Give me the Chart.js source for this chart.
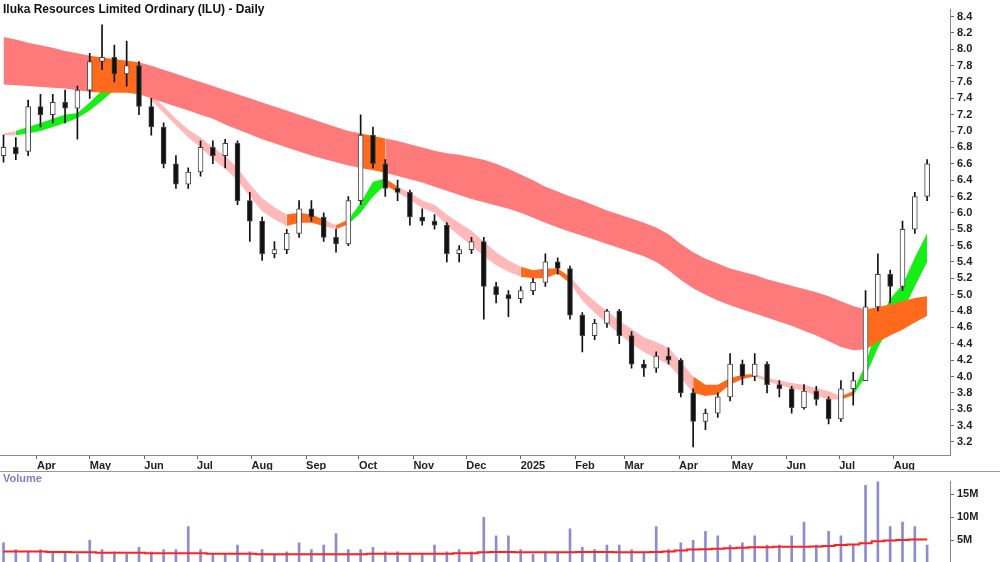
<!DOCTYPE html>
<html>
<head>
<meta charset="utf-8">
<script src="https://cdn.jsdelivr.net/npm/chart.js@4"></script>
<style>
  body { margin: 0; background: #fff; font-family: "Liberation Sans", Arial, sans-serif; }
  #wrap { position: relative; width: 1000px; height: 562px; overflow: hidden; }
  #priceBox { position: absolute; left: 0; top: 0; width: 1000px; height: 470px; }
  #volBox { position: absolute; left: 0; top: 471px; width: 1000px; height: 101px; border-top: 1px solid #999; }
  #title { position: absolute; left: 3px; top: 2px; font-size: 12px; font-weight: bold; color: #111; }
  #volTitle { position: absolute; left: 3px; top: 472px; font-size: 11px; font-weight: bold; color: #8080c8; }
</style>
</head>
<body>
<div id="wrap">
  <div id="priceBox"><canvas id="price"></canvas></div>
  <div id="volBox"><canvas id="vol"></canvas></div>
  <div id="title">Iluka Resources Limited Ordinary (ILU) - Daily</div>
  <div id="volTitle">Volume</div>
</div>
<script>
// weekly points (Monday of each week)
const weeks = [
  "2024-03-11","2024-03-18","2024-03-25","2024-04-01","2024-04-08","2024-04-15","2024-04-22","2024-04-29",
  "2024-05-06","2024-05-13","2024-05-20","2024-05-27","2024-06-03","2024-06-10","2024-06-17","2024-06-24",
  "2024-07-01","2024-07-08","2024-07-15","2024-07-22","2024-07-29","2024-08-05","2024-08-12","2024-08-19",
  "2024-08-26","2024-09-02","2024-09-09","2024-09-16","2024-09-23","2024-09-30","2024-10-07","2024-10-14",
  "2024-10-21","2024-10-28","2024-11-04","2024-11-11","2024-11-18","2024-11-25","2024-12-02","2024-12-09",
  "2024-12-16","2024-12-23","2024-12-30","2025-01-06","2025-01-13","2025-01-20","2025-01-27","2025-02-03",
  "2025-02-10","2025-02-17","2025-02-24","2025-03-03","2025-03-10","2025-03-17","2025-03-24","2025-03-31",
  "2025-04-07","2025-04-14","2025-04-21","2025-04-28","2025-05-05","2025-05-12","2025-05-19","2025-05-26",
  "2025-06-02","2025-06-09","2025-06-16","2025-06-23","2025-06-30","2025-07-07","2025-07-14","2025-07-21",
  "2025-07-28","2025-08-04","2025-08-11","2025-08-18"
];

const opens  = [6.70,6.80,6.75,7.30,7.20,7.35,7.28,7.50,7.85,7.90,7.70,7.80,7.30,7.05,6.60,6.35,6.50,6.80,6.70,6.85,
  6.15,5.90,5.50,5.55,5.75,6.05,5.95,5.70,5.62,6.15,6.95,6.60,6.30,6.25,5.95,5.90,5.85,5.50,5.55,5.65,
  5.10,5.00,4.95,5.05,5.15,5.40,5.32,4.75,4.50,4.65,4.80,4.50,4.15,4.10,4.25,4.20,3.80,3.45,3.55,3.75,
  4.15,4.00,4.15,3.90,3.85,3.62,3.82,3.72,3.48,3.85,3.95,4.85,5.25,5.10,5.80,6.20];
const highs  = [6.95,6.92,7.38,7.45,7.45,7.50,7.55,7.95,8.30,8.05,8.10,7.85,7.40,7.10,6.70,6.55,6.88,6.88,6.90,6.88,
  6.25,5.95,5.65,5.80,6.15,6.15,6.00,5.80,6.20,7.20,7.05,6.65,6.40,6.28,6.05,5.98,5.88,5.60,5.70,5.70,
  5.15,5.05,5.10,5.20,5.50,5.45,5.35,4.78,4.70,4.82,4.82,4.55,4.20,4.30,4.35,4.22,3.85,3.60,3.80,4.28,
  4.20,4.28,4.18,3.95,3.88,3.90,3.88,3.75,3.95,4.05,5.05,5.50,5.30,5.90,6.25,6.65];
const lows   = [6.62,6.65,6.70,7.05,7.10,7.10,6.90,7.40,7.75,7.60,7.55,7.20,6.95,6.55,6.30,6.30,6.45,6.60,6.55,6.10,
  5.65,5.42,5.45,5.50,5.70,5.90,5.65,5.52,5.60,6.10,6.55,6.20,6.15,5.85,5.85,5.80,5.40,5.40,5.50,4.70,
  4.90,4.73,4.90,5.00,5.10,5.25,4.70,4.30,4.45,4.60,4.40,4.10,4.00,4.05,4.15,3.75,3.14,3.35,3.50,3.70,
  3.90,3.95,3.80,3.75,3.55,3.60,3.65,3.42,3.45,3.65,3.95,4.80,4.90,5.05,5.75,6.15];
const closes = [6.80,6.72,7.30,7.20,7.35,7.28,7.50,7.85,7.90,7.70,7.80,7.30,7.05,6.60,6.35,6.50,6.80,6.70,6.85,6.15,
  5.90,5.50,5.55,5.75,6.05,5.95,5.70,5.62,6.15,6.95,6.60,6.30,6.25,5.95,5.90,5.85,5.50,5.55,5.65,5.10,
  5.00,4.95,5.05,5.15,5.40,5.32,4.75,4.50,4.65,4.80,4.50,4.15,4.10,4.25,4.20,3.80,3.45,3.55,3.75,4.15,
  4.00,4.15,3.90,3.85,3.62,3.82,3.72,3.48,3.85,3.95,4.85,5.25,5.10,5.80,6.20,6.60];

// slow ribbon
const longTop = [8.15,8.12,8.08,8.05,8.02,7.98,7.95,7.92,7.90,7.88,7.86,7.84,7.80,7.75,7.70,7.65,7.60,7.55,7.50,7.45,
  7.40,7.35,7.30,7.25,7.20,7.15,7.10,7.05,7.00,6.97,6.94,6.91,6.88,6.84,6.80,6.76,6.73,6.71,6.68,6.65,
  6.60,6.54,6.47,6.40,6.32,6.26,6.20,6.15,6.09,6.03,5.98,5.93,5.88,5.82,5.74,5.62,5.52,5.44,5.38,5.32,
  5.28,5.24,5.19,5.15,5.11,5.07,5.03,4.98,4.92,4.86,4.82,4.85,4.88,4.92,4.96,4.98];
const longBot = [7.57,7.56,7.55,7.54,7.53,7.52,7.50,7.48,7.47,7.47,7.47,7.45,7.40,7.35,7.30,7.25,7.20,7.15,7.08,7.02,
  6.96,6.90,6.85,6.80,6.75,6.70,6.66,6.62,6.58,6.55,6.52,6.49,6.45,6.41,6.37,6.32,6.27,6.22,6.17,6.13,
  6.09,6.05,6.00,5.94,5.88,5.82,5.77,5.72,5.67,5.62,5.57,5.52,5.47,5.40,5.30,5.18,5.08,5.00,4.93,4.87,
  4.82,4.77,4.72,4.67,4.62,4.56,4.50,4.43,4.36,4.32,4.33,4.42,4.50,4.57,4.66,4.74];
const longSegs = [[0,7,"r"],[7,11,"o"],[11,29,"r"],[29,31,"o"],[31,70,"r"],[70,75,"o"]];

// fast ribbon
const shortTop = [6.97,7.00,7.05,7.10,7.15,7.20,7.22,7.35,7.50,7.60,7.65,7.60,7.45,7.30,7.15,7.02,6.92,6.80,6.70,6.55,
  6.35,6.18,6.07,5.98,6.00,5.98,5.92,5.85,5.92,6.12,6.38,6.42,6.32,6.25,6.15,6.10,5.98,5.88,5.78,5.65,
  5.52,5.42,5.34,5.30,5.32,5.32,5.22,5.05,4.92,4.80,4.68,4.58,4.48,4.42,4.35,4.18,4.00,3.90,3.90,3.98,
  4.02,4.03,3.98,3.95,3.92,3.90,3.86,3.82,3.76,3.82,4.15,4.65,4.95,5.12,5.45,5.75];
const shortBot = [6.95,6.95,6.97,7.00,7.05,7.10,7.16,7.25,7.37,7.50,7.57,7.56,7.38,7.22,7.07,6.92,6.80,6.66,6.54,6.40,
  6.20,6.02,5.92,5.84,5.88,5.88,5.84,5.80,5.86,6.00,6.20,6.34,6.25,6.16,6.06,6.00,5.85,5.72,5.60,5.47,
  5.36,5.28,5.22,5.20,5.20,5.26,5.14,4.93,4.78,4.65,4.52,4.40,4.30,4.22,4.15,3.98,3.80,3.76,3.78,3.90,
  3.97,4.00,3.94,3.90,3.85,3.83,3.76,3.72,3.72,3.77,4.00,4.35,4.62,4.79,5.10,5.40];
const shortSegs = [[0,1,"p"],[1,10,"g"],[10,11,"o"],[11,23,"p"],[23,26,"o"],[26,27,"p"],[27,28,"o"],[28,31,"g"],
  [31,32,"o"],[32,42,"p"],[42,46,"o"],[46,56,"p"],[56,61,"o"],[61,68,"p"],[68,69,"o"],[69,75,"g"]];

// volume in millions (peak day of each week) and its average
const volumes = [4.5,3,2.5,3,2.5,2.5,2,5,3,2.5,2,3.5,2.5,3,3,8,3,2,2,4,2.5,3,2,2.5,4.5,3,4,6.5,3,3,3.5,2.5,2.5,2,2,4,2.5,3,2.5,10,
  6,6,3,2,2.5,2.5,7.5,3.5,3,4,4,3,2.5,8,3,4.5,5,7,6,4,4.5,6,4,4,6,9,4,7,6,4,17,19,8,9,8,4];
const volAvg = [2.6,2.6,2.6,2.6,2.5,2.5,2.4,2.4,2.3,2.3,2.3,2.3,2.2,2.2,2.2,2.2,2.2,2.1,2.1,2.1,
  2.1,2.0,2.0,2.0,2.0,2.0,2.0,2.0,2.0,2.0,2.1,2.1,2.1,2.1,2.1,2.1,2.1,2.2,2.2,2.4,
  2.5,2.5,2.4,2.4,2.4,2.4,2.4,2.5,2.5,2.5,2.4,2.4,2.4,2.5,2.6,2.8,3.0,3.1,3.2,3.3,
  3.4,3.5,3.5,3.6,3.6,3.6,3.7,3.8,4.0,4.1,4.4,4.8,5.0,5.1,5.2,5.2];

const priceTicks = [3.2,3.4,3.6,3.8,4.0,4.2,4.4,4.6,4.8,5.0,5.2,5.4,5.6,5.8,6.0,6.2,6.4,6.6,6.8,7.0,7.2,7.4,7.6,7.8,8.0,8.2,8.4];
const volTicks = [5, 10, 15];
const monthStarts = ["2024-04-01","2024-05-01","2024-06-01","2024-07-01","2024-08-01","2024-09-01","2024-10-01","2024-11-01",
  "2024-12-01","2025-01-01","2025-02-01","2025-03-01","2025-04-01","2025-05-01","2025-06-01","2025-07-01","2025-08-01"];
const monthLabels = ["Apr","May","Jun","Jul","Aug","Sep","Oct","Nov","Dec","2025","Feb","Mar","Apr","May","Jun","Jul","Aug"];

// -------------------------------
const day = s => Date.parse(s) / 864e5;
const xs = weeks.map(w => day(w) + 2);
const xMin = day("2024-03-11"), xMax = day("2025-09-02");
const colors = { r: "#ff7b7b", o: "#ff6a1c", p: "#ffb9b9", g: "#16ee16" };

function ribbon(top, bot, segs) {
  const out = [];
  segs.forEach(([a, b, c]) => {
    const pick = arr => xs.map((x, i) => ({ x, y: i >= a && i <= b ? arr[i] : null }));
    const common = { type: "line", pointRadius: 0, borderWidth: 0, spanGaps: false, order: 10,
      backgroundColor: colors[c], borderColor: colors[c] };
    out.push({ ...common, data: pick(top), fill: "+1" });
    out.push({ ...common, data: pick(bot), fill: false });
  });
  return out;
}

const fixWidth = s => { s.width = 50; };
const rightAxis = {
  position: "right", afterFit: fixWidth,
  grid: { drawOnChartArea: false, tickLength: 4, color: "#666" },
  border: { color: "#888" },
  ticks: { color: "#222", font: { size: 11, weight: "bold", family: "Liberation Sans" }, padding: 3 }
};

new Chart(document.getElementById("price"), {
  type: "bar",
  data: {
    datasets: [
      ...ribbon(longTop, longBot, longSegs),
      ...ribbon(shortTop, shortBot, shortSegs),
      { data: xs.map((x, i) => ({ x, y: [lows[i], highs[i]] })), backgroundColor: "#111",
        barThickness: 1, grouped: false, order: 2 },
      { data: xs.map((x, i) => ({ x, y: [Math.min(opens[i], closes[i]), Math.max(opens[i], closes[i])] })),
        backgroundColor: xs.map((x, i) => closes[i] >= opens[i] ? "#ffffff" : "#111"),
        borderColor: "#444", borderWidth: 1, borderSkipped: false,
        barThickness: 5, grouped: false, order: 1 }
    ]
  },
  options: {
    responsive: true, maintainAspectRatio: false, animation: false,
    layout: { padding: 0 },
    plugins: { legend: { display: false }, tooltip: { enabled: false } },
    scales: {
      x: {
        type: "linear", min: xMin, max: xMax, offset: false,
        afterFit: s => { s.height = 15; },
        afterBuildTicks: s => { s.ticks = monthStarts.map(m => ({ value: day(m) })); },
        grid: { drawOnChartArea: false, tickLength: 4, color: "#666", offset: false },
        border: { color: "#888" },
        ticks: {
          align: "start", padding: 0, maxRotation: 0, autoSkip: false,
          color: "#222", font: { size: 11, weight: "bold", family: "Liberation Sans" },
          callback: (v, i) => monthLabels[i]
        }
      },
      y: {
        ...rightAxis, min: 3.04, max: 8.485,
        afterBuildTicks: s => { s.ticks = priceTicks.map(v => ({ value: v })); },
        ticks: { ...rightAxis.ticks, callback: v => v.toFixed(1) }
      }
    }
  }
});

new Chart(document.getElementById("vol"), {
  type: "bar",
  data: {
    datasets: [
      { type: "line", data: xs.map((x, i) => ({ x, y: volAvg[i] })), borderColor: "#ff2020",
        borderWidth: 2, pointRadius: 0, stepped: "middle", order: 1 },
      { data: xs.map((x, i) => ({ x, y: volumes[i] })), backgroundColor: "#8c8cd0",
        barThickness: 2, order: 2 }
    ]
  },
  options: {
    responsive: true, maintainAspectRatio: false, animation: false,
    layout: { padding: 0 },
    plugins: { legend: { display: false }, tooltip: { enabled: false } },
    scales: {
      x: { type: "linear", min: xMin, max: xMax, offset: false, display: false },
      y: {
        ...rightAxis, min: 0, max: 17.8,
        afterBuildTicks: s => { s.ticks = volTicks.map(v => ({ value: v })); },
        ticks: { ...rightAxis.ticks, callback: v => v + "M" }
      }
    }
  }
});
</script>
</body>
</html>
